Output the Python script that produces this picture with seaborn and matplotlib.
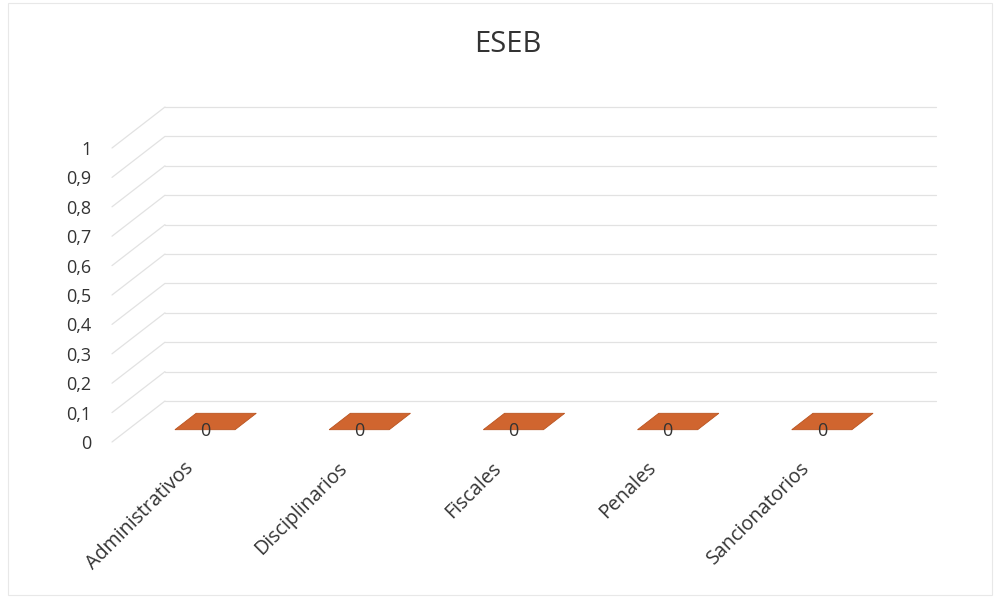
import matplotlib
matplotlib.use("Agg")
import matplotlib.pyplot as plt
import matplotlib.transforms as mtrans
import seaborn as sns
import numpy as np
import pandas as pd
from matplotlib.patches import Polygon, Rectangle
from matplotlib.transforms import IdentityTransform

# ---- data ----
title = "ESEB"
categories = ["Administrativos", "Disciplinarios", "Fiscales", "Penales", "Sancionatorios"]
values = [0, 0, 0, 0, 0]
y_ticks = [0, 0.1, 0.2, 0.3, 0.4, 0.5, 0.6, 0.7, 0.8, 0.9, 1]
y_tick_labels = ["0", "0,1", "0,2", "0,3", "0,4", "0,5", "0,6", "0,7", "0,8", "0,9", "1"]

df = pd.DataFrame({"cat": categories, "val": values})

sns.set_theme(style="white")
plt.rcParams['font.family'] = ['Open Sans', 'DejaVu Sans']

W, H = 995, 598
fig = plt.figure(figsize=(W / 100, H / 100), dpi=100)
fig.patch.set_facecolor("white")

# front plane of the 3D box (pixels)
left, right, top, bottom = 112, 883, 148, 442
ax = fig.add_axes([left / W, 1 - bottom / H, (right - left) / W, (bottom - top) / H])
ax.set_facecolor("none")

bar_color = "#D0652F"
text_color = "#333333"
grid_color = "#e2e2e2"
fs = 13

sns.barplot(data=df, x="cat", y="val", ax=ax, color=bar_color, linewidth=0, width=0.39)
ax.set_xlim(-0.5, len(categories) - 0.5)
ax.set_ylim(0, 1)
for s in ax.spines.values():
    s.set_visible(False)
ax.set_xlabel("")
ax.set_ylabel("")

ax.set_yticks(y_ticks)
ax.set_yticklabels(y_tick_labels)
ax.tick_params(axis="y", length=0, pad=15, labelsize=fs, labelcolor=text_color)
ax.set_xticks(range(len(categories)))
ax.set_xticklabels(categories, rotation=45, ha="right", rotation_mode="anchor")
ax.tick_params(axis="x", length=0, pad=6, labelsize=14.2, labelcolor=text_color)
for lbl in ax.get_xticklabels():
    lbl.set_transform(lbl.get_transform() + mtrans.ScaledTranslation(-6 / 100, -8 / 100, fig.dpi_scale_trans))

# depth vector in display pixels
DX, DY = 53, 41
fig.canvas.draw()
T = ax.transData

# back wall gridlines and left-side diagonals
x0, x1 = -0.5, len(categories) - 0.5
for yv in y_ticks:
    a = T.transform((x0, yv))
    b = T.transform((x1, yv))
    fig.add_artist(plt.Line2D([a[0] + DX, b[0] + DX], [a[1] + DY, b[1] + DY],
                              transform=IdentityTransform(), color=grid_color, lw=0.9))
    fig.add_artist(plt.Line2D([a[0], a[0] + DX], [a[1], a[1] + DY],
                              transform=IdentityTransform(), color=grid_color, lw=0.9))

# bars (3D tops) and data labels
w = 0.39
f1, f2 = 0.3, 0.7
for i, v in enumerate(values):
    pl = T.transform((i - w / 2, v))
    pr = T.transform((i + w / 2, v))
    bl = T.transform((i - w / 2, 0))
    br = T.transform((i + w / 2, 0))
    d1 = np.array([DX * f1, DY * f1])
    d2 = np.array([DX * f2, DY * f2])
    if v > 0:
        fig.add_artist(Polygon([bl + d1, br + d1, pr + d1, pl + d1], closed=True,
                               transform=IdentityTransform(), facecolor=bar_color, edgecolor="none"))
    fig.add_artist(Polygon([pl + d1, pr + d1, pr + d2, pl + d2], closed=True,
                           transform=IdentityTransform(), facecolor=bar_color,
                           edgecolor="#b9531f", lw=0.6))
    c = (pl + pr) / 2 + d1
    fig.text(c[0] / W, c[1] / H - 1 / H, f"{v:g}", ha="center", va="center",
             fontsize=fs, color=text_color)

fig.text(508 / W, 1 - 45 / H, title, ha="center", va="center", fontsize=21, color=text_color)

# faint chart frame
fig.add_artist(Rectangle((8 / W, 3 / H), 984 / W, 592 / H, transform=fig.transFigure,
                         fill=False, edgecolor="#e8e8e8", lw=0.8))

fig.savefig("out.png", dpi=100)
